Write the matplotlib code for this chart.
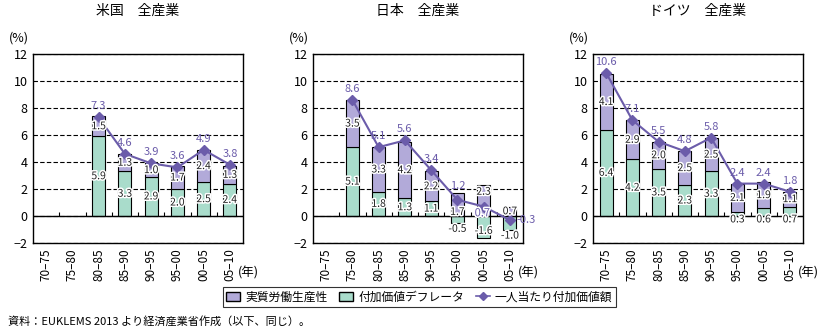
import matplotlib
matplotlib.use('Agg')
import matplotlib.pyplot as plt
import matplotlib.patheffects as pe
from matplotlib.patches import Patch
from matplotlib.lines import Line2D
import numpy as np

plt.rcParams['font.family'] = ['Noto Sans CJK JP', 'DejaVu Sans']

periods = ['70–75', '75–80', '80–85', '85–90', '90–95', '95–00', '00–05', '05–10']
titles = ['米国　全産業', '日本　全産業', 'ドイツ　全産業']

# 付加価値デフレータ (green), 実質労働生産性 (purple), 一人当たり付加価値額 (line)
us_deflator = [None, None, 5.9, 3.3, 2.9, 2.0, 2.5, 2.4]
us_labor = [None, None, 1.5, 1.3, 1.0, 1.7, 2.4, 1.3]
us_total = [None, None, 7.3, 4.6, 3.9, 3.6, 4.9, 3.8]

jp_deflator = [None, 5.1, 1.8, 1.3, 1.1, -0.5, -1.6, -1.0]
jp_labor = [None, 3.5, 3.3, 4.2, 2.2, 1.7, 2.3, 0.7]
jp_total = [None, 8.6, 5.1, 5.6, 3.4, 1.2, 0.7, -0.3]

de_deflator = [6.4, 4.2, 3.5, 2.3, 3.3, 0.3, 0.6, 0.7]
de_labor = [4.1, 2.9, 2.0, 2.5, 2.5, 2.1, 1.9, 1.1]
de_total = [10.6, 7.1, 5.5, 4.8, 5.8, 2.4, 2.4, 1.8]

series = [(us_deflator, us_labor, us_total),
          (jp_deflator, jp_labor, jp_total),
          (de_deflator, de_labor, de_total)]

c_green = '#a9dccb'
c_purple = '#b2aad9'
c_line = '#6b5caa'
halo = [pe.withStroke(linewidth=2.2, foreground='white')]

fig = plt.figure(figsize=(8.3, 3.33), dpi=100)
lefts = [33, 313, 593]
W, H = 830, 333

for k, (defl, lab, tot) in enumerate(series):
    ax = fig.add_axes([lefts[k] / W, (H - 243) / H, 210 / W, 189 / H])
    x = np.arange(len(periods))
    idx = [i for i in x if defl[i] is not None]
    d = np.array([defl[i] for i in idx])
    l = np.array([lab[i] for i in idx])
    t = np.array([tot[i] for i in idx])
    xi = np.array(idx)
    lab_bottom = np.where(d > 0, d, 0)

    ax.set_axisbelow(True)
    ax.grid(axis='y', color='black', linestyle=(0, (4, 2)), linewidth=0.8)
    ax.bar(xi, d, width=0.5, color=c_green, edgecolor='black', linewidth=0.8, zorder=2)
    ax.bar(xi, l, width=0.5, bottom=lab_bottom, color=c_purple, edgecolor='black',
           linewidth=0.8, zorder=2)
    ax.axhline(0, color='black', linewidth=1, zorder=3)
    ax.vlines(np.arange(0.5, 7.5, 1), 0, 0.3, color='black', linewidth=0.8, zorder=3)
    ax.plot(xi, t, color=c_line, marker='D', markersize=5.5, linewidth=1.5, zorder=4)

    for xx, dv, lv, tv, lb in zip(xi, d, l, t, lab_bottom):
        # green labels
        if dv >= 1:
            yd = dv / 2
        elif dv >= 0:
            yd = -0.25
        elif dv > -1.2:
            yd = dv - 0.45
        else:
            yd = dv / 2 - 0.3
        ax.text(xx, yd, f'{dv:.1f}', ha='center', va='center', fontsize=7.5,
                color='#222222', path_effects=halo, zorder=5)
        # purple labels, moved off the line marker when it sits inside the bar
        top = lb + lv
        inside = lb <= tv < top - 0.3
        mid = lb + lv / 2
        yl = mid
        if inside and abs(tv - mid) < 0.6:
            yl = lb + 0.3 if tv > mid else top - 0.5
        ax.text(xx, yl, f'{lv:.1f}', ha='center', va='center', fontsize=7.5,
                color='#222222', path_effects=halo, zorder=5)
        if tv < 0:
            ax.text(xx + 0.25, tv, f'{tv:.1f}', ha='left', va='center', fontsize=8,
                    color=c_line, zorder=5)
        elif inside and tv < mid:
            ax.text(xx - 0.05, tv - 0.5, f'{tv:.1f}', ha='center', va='center', fontsize=8,
                    color=c_line, path_effects=halo, zorder=5)
        else:
            ax.text(xx, max(tv + 0.45, top + 0.15), f'{tv:.1f}', ha='center', va='bottom',
                    fontsize=8, color=c_line, zorder=5)

    ax.set_xlim(-0.5, 7.5)
    ax.set_ylim(-2, 12)
    ax.set_yticks(range(-2, 13, 2))
    ax.set_xticks(x)
    ax.set_xticklabels(periods, rotation=90, fontsize=8.5)
    ax.tick_params(axis='x', length=0, pad=4)
    ax.tick_params(axis='y', length=0, labelsize=9, pad=4)
    for s in ax.spines.values():
        s.set_linewidth(1)
    ax.text(-0.065, 1.085, '(%)', transform=ax.transAxes, ha='center', va='center', fontsize=9)
    ax.text(7.3, -4.2, '(年)', ha='left', va='center', fontsize=9, clip_on=False)
    ax.set_title(titles[k], fontsize=10, pad=28)

handles = [Patch(facecolor=c_purple, edgecolor='black', label='実質労働生産性'),
           Patch(facecolor=c_green, edgecolor='black', label='付加価値デフレータ'),
           Line2D([], [], color=c_line, marker='D', markersize=4, linewidth=1.2,
                  label='一人当たり付加価値額')]
leg = fig.legend(handles=handles, loc='center', bbox_to_anchor=(0.505, 1 - 297 / H), ncol=3,
                 fontsize=8.5, frameon=True, fancybox=False, handlelength=1.2,
                 handletextpad=0.4, columnspacing=1.0, borderpad=0.3)
leg.get_frame().set_edgecolor('black')
leg.get_frame().set_linewidth(0.8)

fig.text(8 / W, 1 - 321 / H, '資料：EUKLEMS 2013 より経済産業省作成（以下、同じ）。',
         ha='left', va='center', fontsize=8)

fig.savefig('out.png', dpi=100)
